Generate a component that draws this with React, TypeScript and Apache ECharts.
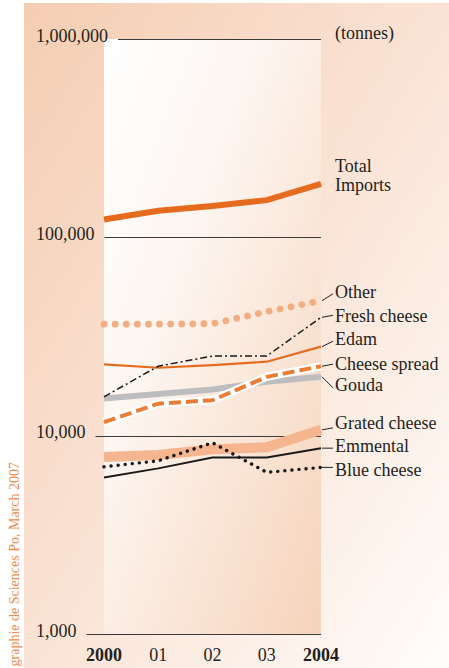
import React, { useEffect, useRef } from "react";
import * as echarts from "echarts";

// ---- data (tonnes) ----
const years = ["2000", "01", "02", "03", "2004"];
const yTicks = [1000, 10000, 100000, 1000000];
const totalImports = [123000, 136000, 144000, 154000, 186000];
const other = [36500, 36500, 36700, 42200, 47900];
const freshCheese = [15700, 22400, 25200, 25200, 39500];
const edam = [22900, 22000, 22700, 23600, 28100];
const cheeseSpread = [11700, 14500, 15100, 19800, 22400];
const gouda = [15400, 16200, 17100, 18700, 19800];
const gratedCheese = [7800, 8000, 8530, 8730, 10700];
const emmental = [6160, 6840, 7770, 7770, 8650];
const blueCheese = [6970, 7470, 9210, 6530, 6920];
const unitLabel = "(tonnes)";
const credit = "graphie de Sciences Po, March 2007";

const FONT = '"Liberation Serif", "Times New Roman", serif';
const INK = "#231f20";

type Def = {
  name: string;
  label: string;
  data: number[];
  color: string;
  width: number;
  dash?: number[] | "solid";
  cap?: "round" | "butt";
  halo?: boolean;
  leaderDy: number | null; // leader end offset from line end, px (null = no leader)
  textDy: number; // label centre offset from line end, px
};

const defs: Def[] = [
  { name: "Grated cheese", label: "Grated cheese", data: gratedCheese, color: "#f5b68f", width: 10, leaderDy: -2, textDy: -8 },
  { name: "Gouda", label: "Gouda", data: gouda, color: "#bdbdbf", width: 6, leaderDy: 11, textDy: 7 },
  { name: "Cheese spread", label: "Cheese spread", data: cheeseSpread, color: "#ea7d36", width: 4, dash: [12, 5], halo: true, leaderDy: -2, textDy: -3 },
  { name: "Edam", label: "Edam", data: edam, color: "#e56c1e", width: 2.2, leaderDy: -5.5, textDy: -9 },
  { name: "Fresh cheese", label: "Fresh cheese", data: freshCheese, color: "#1a1a1a", width: 1.5, dash: [7, 3, 2, 3], leaderDy: -2, textDy: -2 },
  { name: "Other", label: "Other", data: other, color: "#f2ad80", width: 6.8, dash: [0.1, 11], cap: "round", leaderDy: -7, textDy: -10 },
  { name: "Emmental", label: "Emmental", data: emmental, color: "#1a1a1a", width: 2, leaderDy: 0, textDy: -3 },
  { name: "Blue cheese", label: "Blue cheese", data: blueCheese, color: "#1a1a1a", width: 3.4, dash: [0.1, 7], cap: "round", leaderDy: 0, textDy: 2 },
  { name: "Total Imports", label: "Total\nImports", data: totalImports, color: "#e56c1e", width: 6, leaderDy: null, textDy: -9.5 },
];

let measureCtx: CanvasRenderingContext2D | null = null;
function textWidth(t: string): number {
  if (!measureCtx) measureCtx = document.createElement("canvas").getContext("2d");
  if (!measureCtx) return t.length * 9;
  measureCtx.font = `18px ${FONT}`;
  return measureCtx.measureText(t).width;
}
const fmt = (v: number) => Math.round(v).toLocaleString("en-US");

export default function App() {
  const ref = useRef<HTMLDivElement>(null);

  useEffect(() => {
    document.body.style.margin = "0";
    if (!ref.current) return;
    const chart = echarts.init(ref.current, undefined, { renderer: "svg" });

    const lineSeries: any[] = [];
    defs.forEach((d) => {
      if (d.halo) {
        lineSeries.push({
          type: "line",
          name: d.name + " halo",
          data: d.data,
          symbol: "none",
          silent: true,
          lineStyle: { color: "#ffffff", width: d.width + 4, cap: "butt", join: "miter" },
        });
      }
      lineSeries.push({
        type: "line",
        name: d.name,
        data: d.data,
        symbol: "none",
        lineStyle: {
          color: d.color,
          width: d.width,
          type: d.dash || "solid",
          cap: d.cap || "butt",
          join: d.cap === "round" ? "round" : "miter",
        },
      });
    });

    const option: any = {
      animation: false,
      graphic: [
        {
          type: "rect",
          z: -10,
          silent: true,
          shape: { x: 24, y: 3, width: 425, height: 665 },
          style: {
            fill: new echarts.graphic.LinearGradient(0, 0, 1, 1, [
              { offset: 0, color: "#f5cdb2" },
              { offset: 0.5, color: "#fae3d5" },
              { offset: 1, color: "#fffdfb" },
            ]),
          },
        },
        {
          type: "text",
          z: 5,
          x: 14,
          y: 462,
          rotation: Math.PI / 2,
          style: {
            text: credit,
            fill: "#ec8c4e",
            fontSize: 14,
            fontFamily: FONT,
            align: "right",
            verticalAlign: "middle",
          },
        },
      ],
      grid: {
        left: 104,
        right: 128,
        top: 39,
        bottom: 34,
        show: true,
        borderWidth: 0,
        backgroundColor: new echarts.graphic.LinearGradient(0, 0, 1, 1, [
          { offset: 0, color: "#ffffff" },
          { offset: 0.35, color: "#fdf6f1" },
          { offset: 1, color: "#f6d3ba" },
        ]),
      },
      xAxis: {
        type: "category",
        data: years,
        boundaryGap: false,
        axisLine: { show: false },
        axisTick: { show: false },
        splitLine: { show: false },
        axisLabel: {
          margin: 12,
          interval: 0,
          formatter: (v: string, i: number) => (i === 0 || i === years.length - 1 ? `{b|${v}}` : `{r|${v}}`),
          rich: {
            b: { fontWeight: "bold", fontSize: 18, fontFamily: FONT, color: INK },
            r: { fontSize: 18, fontFamily: FONT, color: INK },
          },
        },
      },
      yAxis: {
        type: "log",
        logBase: 10,
        min: yTicks[0],
        max: yTicks[yTicks.length - 1],
        axisLine: { show: false },
        axisTick: { show: false },
        splitLine: { show: false },
        axisLabel: {
          align: "left",
          verticalAlign: "bottom",
          lineHeight: 7,
          margin: 68,
          fontSize: 18,
          fontFamily: FONT,
          color: INK,
          showMinLabel: true,
          showMaxLabel: true,
          formatter: (v: number) => fmt(v),
        },
      },
      series: [
        {
          type: "custom",
          name: "gridlines",
          silent: true,
          clip: false,
          z: 1,
          data: yTicks.map((v) => [0, v]),
          renderItem: (params: any, api: any) => {
            const v = api.value(1);
            const p = api.coord([0, v]);
            const pr = api.coord([years.length - 1, v]);
            const x1 = p[0] - 68 + textWidth(fmt(v)) + 10;
            return {
              type: "line",
              shape: { x1, y1: Math.round(p[1]) + 0.5, x2: pr[0], y2: Math.round(p[1]) + 0.5 },
              style: { stroke: "#3b3b3b", lineWidth: 1 },
            };
          },
        },
        ...lineSeries,
        {
          type: "custom",
          name: "labels",
          silent: true,
          clip: false,
          z: 5,
          data: defs.map((_, i) => [i, 0]),
          renderItem: (params: any, api: any) => {
            const d = defs[params.dataIndex];
            const last = d.data.length - 1;
            const end = api.coord([last, d.data[last]]);
            const children: any[] = [];
            if (d.leaderDy !== null) {
              children.push({
                type: "line",
                shape: { x1: end[0] + 1, y1: end[1], x2: end[0] + 12, y2: end[1] + d.leaderDy },
                style: { stroke: "#222", lineWidth: 1 },
              });
            }
            children.push({
              type: "text",
              x: end[0] + 14,
              y: end[1] + d.textDy + 1,
              style: {
                text: d.label,
                fill: INK,
                fontSize: 18,
                fontFamily: FONT,
                lineHeight: 19,
                align: "left",
                verticalAlign: "middle",
              },
            });
            if (params.dataIndex === defs.length - 1) {
              const top = api.coord([last, yTicks[yTicks.length - 1]]);
              children.push({
                type: "text",
                x: top[0] + 14,
                y: top[1] - 6,
                style: {
                  text: unitLabel,
                  fill: INK,
                  fontSize: 18,
                  fontFamily: FONT,
                  align: "left",
                  verticalAlign: "middle",
                },
              });
            }
            return { type: "group", children };
          },
        },
      ],
    };

    chart.setOption(option);
    return () => chart.dispose();
  }, []);

  return <div ref={ref} style={{ width: 449, height: 668 }} />;
}
